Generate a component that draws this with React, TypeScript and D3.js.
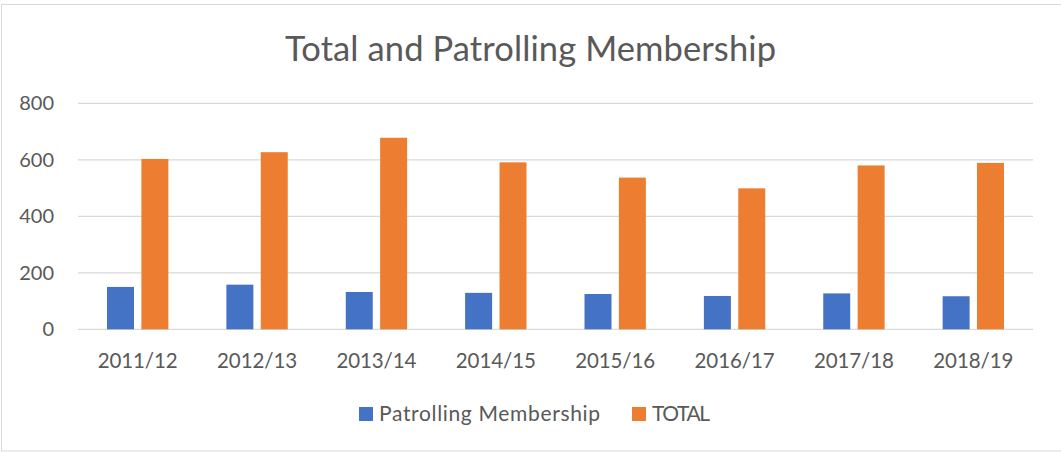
import React from "react";
import * as d3 from "d3";

const categories = ["2011/12", "2012/13", "2013/14", "2014/15", "2015/16", "2016/17", "2017/18", "2018/19"];
const patrolling = [150, 158, 132, 129, 125, 118, 127, 117];
const total = [603, 627, 678, 591, 537, 499, 580, 589];
const yTicks = [0, 200, 400, 600, 800];
const seriesNames = ["Patrolling Membership", "TOTAL"];
const colors = ["#4472C4", "#ED7D31"];

const W = 1061;
const H = 453;
const left = 78;
const right = 1033;
const top = 103.3;
const bottom = 329.3;
const FONT = "Lato, 'Open Sans', sans-serif";

export default function App() {
  const x = d3.scaleBand<string>().domain(categories).range([left, right]);
  const y = d3.scaleLinear().domain([0, 800]).range([bottom, top]);
  const bw = x.bandwidth();
  const barW = bw * 0.226;
  const gap = bw * 0.062;
  const series = [patrolling, total];

  return (
    <svg width={W} height={H} style={{ position: "absolute", left: 0, top: 0, background: "#fff" }}>
      <rect x={1.5} y={4.5} width={W + 10} height={446.5} fill="#fff" stroke="#D9D9D9" strokeWidth={1} />
      <text x={285} y={60.5} fontFamily={FONT} fontSize={34.5} fill="#595959" textLength={491} lengthAdjust="spacing">
        Total and Patrolling Membership
      </text>
      {yTicks.map((t) => (
        <g key={t}>
          <line x1={left} x2={right} y1={y(t)} y2={y(t)} stroke="#D9D9D9" strokeWidth={1.3} />
          <text x={54} y={y(t)} dy="0.35em" textAnchor="end" fontFamily={FONT} fontSize={20} fill="#595959">
            {t}
          </text>
        </g>
      ))}
      {categories.map((c, i) => {
        const cx = (x(c) as number) + bw / 2;
        return (
          <g key={c}>
            {series.map((s, k) => {
              const bx = k === 0 ? cx - gap / 2 - barW : cx + gap / 2;
              return (
                <rect
                  key={k}
                  x={bx}
                  y={y(s[i])}
                  width={barW}
                  height={y(0) - y(s[i])}
                  fill={colors[k]}
                />
              );
            })}
            <text x={cx - 40} y={367.7} fontFamily={FONT} fontSize={20.5} fill="#595959" textLength={80} lengthAdjust="spacing">
              {c}
            </text>
          </g>
        );
      })}
      <g>
        <rect x={359} y={407} width={14} height={14} fill={colors[0]} />
        <text x={379} y={420.7} fontFamily={FONT} fontSize={21} fill="#595959" textLength={221} lengthAdjust="spacing">{seriesNames[0]}</text>
        <rect x={632} y={407} width={14} height={14} fill={colors[1]} />
        <text x={652} y={420.7} fontFamily={FONT} fontSize={21} fill="#595959" textLength={58} lengthAdjust="spacing">{seriesNames[1]}</text>
      </g>
    </svg>
  );
}
